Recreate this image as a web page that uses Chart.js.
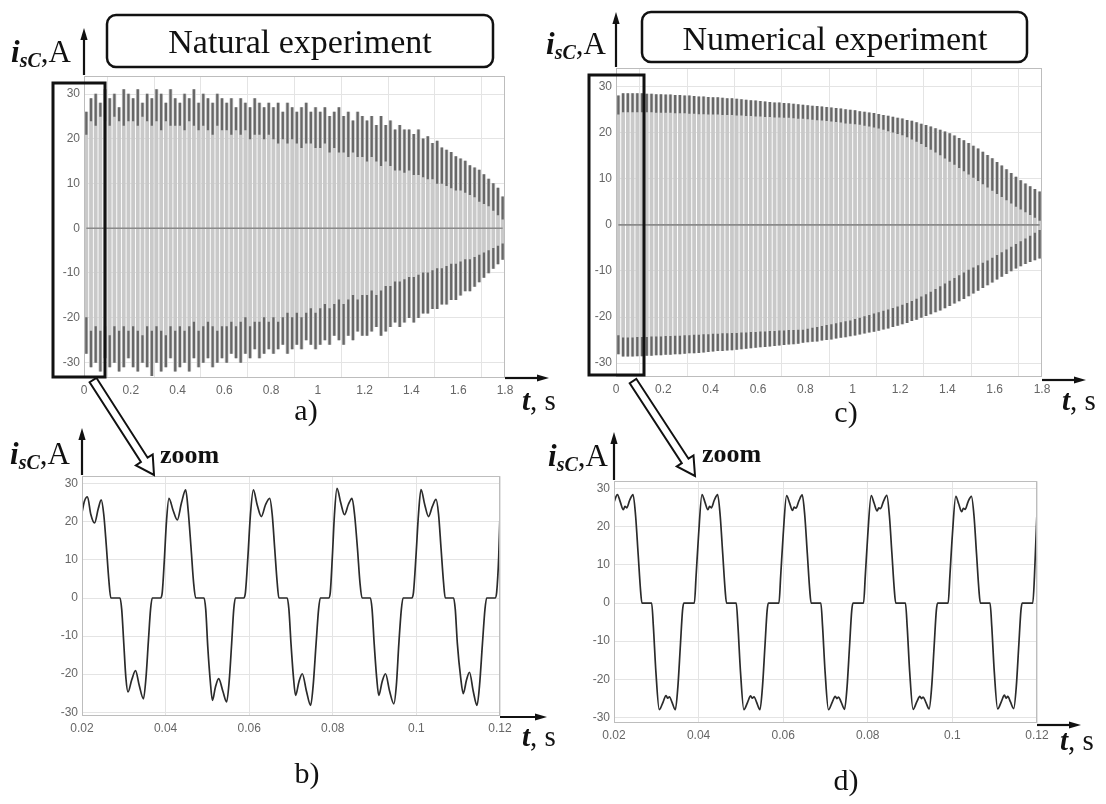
<!DOCTYPE html>
<html>
<head>
<meta charset="utf-8">
<script src="https://cdn.jsdelivr.net/npm/chart.js@4.4.1/dist/chart.umd.min.js"></script>
<style>
  html, body { margin: 0; padding: 0; background: #fff; }
  #page { position: relative; width: 1106px; height: 804px; overflow: hidden; }
  canvas { position: absolute; }
  svg { position: absolute; left: 0; top: 0; }
</style>
</head>
<body>
<div id="page">
  <canvas id="chartA"></canvas>
  <canvas id="chartC"></canvas>
  <canvas id="chartB"></canvas>
  <canvas id="chartD"></canvas>
  <svg id="overlay" width="1106" height="804"></svg>
</div>
<script>
// ---------- data ----------
// supply period and first cycle centre of the long records, s
const cyclePeriod = 0.02;
const cycleStart = 0.01;

// Natural experiment, full record: per-cycle positive / negative peaks, A
const natTopUpper = [
  26, 29, 30, 28, 31, 29, 30, 27, 31, 30,
  29, 31, 28, 30, 29, 31, 30, 28, 31, 29,
  28, 30, 29, 31, 28, 30, 29, 28, 30, 29,
  28, 29, 27, 29, 28, 27, 29, 28, 27, 28,
  27, 28, 26, 28, 27, 26, 27, 28, 26, 27,
  26, 27, 25, 26, 27, 25, 26, 24, 26, 25,
  24, 25, 23, 25, 23, 24, 22, 23, 22, 22,
  21, 22, 20, 20.5, 19, 19.5, 18, 17.5, 17, 16,
  15.5, 15, 14, 13.5, 13, 12, 11, 10, 9, 7
];
const natTopLower = [
  -28, -31, -30, -32, -29, -31, -30, -32, -31, -29,
  -31, -32, -30, -31, -33, -30, -32, -31, -29, -32,
  -31, -30, -32, -29, -31, -30, -29, -31, -30, -29,
  -30, -28, -29, -30, -28, -29, -27, -29, -28, -27,
  -28, -27, -26, -28, -27, -26, -27, -25, -26, -27,
  -26, -25, -26, -24, -25, -26, -24, -25, -23, -24,
  -24, -23, -22, -24, -23, -22, -21, -22, -21, -20,
  -21, -20, -19, -19, -18, -18, -17, -17, -16, -16,
  -15, -14, -14, -13, -12, -11, -10, -9, -8, -7
];
// per-cycle ripple floor of the flat tops, A
const natTopUpperDwell = [
  21, 24, 23, 25, 24, 23, 25, 24, 23, 24,
  24, 23, 25, 24, 23, 24, 22, 24, 23, 23,
  23, 22, 24, 23, 22, 23, 22, 21, 23, 22,
  22, 21, 22, 21, 22, 20, 21, 21, 20, 21,
  20, 19, 20, 19, 20, 19, 18, 19, 19, 18,
  18, 19, 17, 18, 17, 17, 16, 17, 16, 16,
  15, 16, 15, 14, 15, 14, 13, 13, 12.5, 13,
  12, 12, 11.5, 11, 11, 10, 10, 9.5, 9, 8.5,
  8.5, 8, 7.5, 7, 6, 5.5, 5, 4, 3, 2
];
const natTopLowerDwell = [
  -20, -23, -22, -23, -22, -24, -22, -23, -22, -23,
  -22, -23, -24, -22, -23, -22, -23, -24, -22, -23,
  -22, -23, -22, -21, -23, -22, -21, -22, -23, -22,
  -22, -21, -22, -21, -20, -22, -21, -21, -20, -21,
  -20, -21, -20, -19, -20, -19, -20, -19, -18, -19,
  -18, -17, -18, -17, -16, -17, -16, -15, -16, -15,
  -15, -14, -15, -14, -13, -13, -12, -12, -11.5, -11,
  -11, -10.5, -10, -10, -9.5, -9, -9, -8.5, -8, -8,
  -7.5, -7, -7, -6.5, -6, -5.5, -5, -4.5, -4, -3.5
];

// Numerical experiment, full record
const numTopUpper = [
  28, 28.5, 28.5, 28.5, 28.5, 28.5, 28.4, 28.4, 28.3, 28.3,
  28.2, 28.2, 28.1, 28.1, 28, 28, 27.9, 27.8, 27.8, 27.7,
  27.6, 27.6, 27.5, 27.4, 27.4, 27.3, 27.2, 27.1, 27.0, 26.9,
  26.8, 26.7, 26.6, 26.5, 26.5, 26.4, 26.3, 26.2, 26.1, 26.0,
  25.9, 25.8, 25.7, 25.6, 25.5, 25.4, 25.3, 25.2, 25.0, 24.9,
  24.8, 24.6, 24.5, 24.3, 24.2, 24.0, 23.8, 23.6, 23.4, 23.2,
  23.0, 22.7, 22.5, 22.2, 21.9, 21.6, 21.3, 20.9, 20.6, 20.2,
  19.8, 19.3, 18.8, 18.3, 17.7, 17.1, 16.5, 15.8, 15.1, 14.4,
  13.6, 12.8, 12.0, 11.2, 10.4, 9.6, 8.9, 8.3, 7.7, 7.2
];
const numTopLower = [
  -28, -28.5, -28.5, -28.5, -28.4, -28.4, -28.3, -28.3, -28.2, -28.2,
  -28.1, -28.1, -28.0, -28.0, -27.9, -27.8, -27.8, -27.7, -27.6, -27.5,
  -27.4, -27.3, -27.3, -27.2, -27.1, -27.0, -26.9, -26.8, -26.7, -26.6,
  -26.5, -26.4, -26.3, -26.2, -26.1, -26.0, -25.9, -25.8, -25.7, -25.5,
  -25.4, -25.3, -25.2, -25.0, -24.9, -24.8, -24.6, -24.4, -24.3, -24.1,
  -23.9, -23.7, -23.5, -23.3, -23.1, -22.9, -22.6, -22.4, -22.1, -21.8,
  -21.5, -21.2, -20.8, -20.5, -20.1, -19.7, -19.3, -18.9, -18.5, -18.0,
  -17.5, -17.0, -16.5, -16.0, -15.4, -14.8, -14.2, -13.6, -13.0, -12.4,
  -11.8, -11.2, -10.6, -10.0, -9.4, -8.9, -8.4, -8.0, -7.6, -7.2
];
const numTopUpperDwell = [
  24, 24.5, 24.5, 24.5, 24.5, 24.5, 24.5, 24.5, 24.4, 24.4,
  24.4, 24.4, 24.3, 24.3, 24.3, 24.2, 24.2, 24.1, 24.1, 24.0,
  24.0, 24.0, 23.9, 23.9, 23.9, 23.8, 23.8, 23.7, 23.7, 23.6,
  23.6, 23.5, 23.5, 23.4, 23.4, 23.3, 23.3, 23.2, 23.1, 23.1,
  23.0, 22.9, 22.8, 22.7, 22.6, 22.5, 22.4, 22.3, 22.1, 22.0,
  21.9, 21.8, 21.6, 21.4, 21.2, 21.0, 20.7, 20.4, 20.1, 19.8,
  19.5, 19.1, 18.6, 18.1, 17.6, 17.0, 16.4, 15.8, 15.2, 14.5,
  13.8, 13.1, 12.4, 11.7, 11.0, 10.3, 9.6, 8.9, 8.2, 7.5,
  6.8, 6.1, 5.4, 4.7, 4.0, 3.4, 2.8, 2.2, 1.6, 1.0
];
const numTopLowerDwell = [
  -24, -24.5, -24.5, -24.5, -24.4, -24.4, -24.4, -24.3, -24.3, -24.3,
  -24.2, -24.2, -24.1, -24.1, -24.0, -24.0, -23.9, -23.9, -23.8, -23.8,
  -23.7, -23.7, -23.6, -23.6, -23.5, -23.5, -23.4, -23.4, -23.3, -23.3,
  -23.2, -23.2, -23.1, -23.1, -23.0, -23.0, -22.9, -22.9, -22.8, -22.8,
  -22.6, -22.4, -22.2, -22.0, -21.8, -21.6, -21.4, -21.2, -21.0, -20.8,
  -20.5, -20.2, -19.9, -19.6, -19.3, -19.0, -18.7, -18.4, -18.1, -17.8,
  -17.4, -17.0, -16.6, -16.1, -15.6, -15.1, -14.6, -14.0, -13.4, -12.8,
  -12.2, -11.6, -11.0, -10.4, -9.8, -9.3, -8.8, -8.3, -7.8, -7.2,
  -6.6, -6.0, -5.4, -4.8, -4.2, -3.6, -3.0, -2.4, -1.8, -1.2
];

// Natural experiment, 0.02 .. 0.12 s
const natZoomTime = [
  0.0200, 0.0206, 0.0213, 0.0221, 0.0230, 0.0239, 0.0246, 0.0252, 0.0258, 0.0264, 0.0269, 0.0291,
  0.0295, 0.0300, 0.0305, 0.0310, 0.0319, 0.0328, 0.0337, 0.0347, 0.0353, 0.0359, 0.0364, 0.0368, 0.0388,
  0.0392, 0.0397, 0.0402, 0.0408, 0.0418, 0.0428, 0.0438, 0.0448, 0.0454, 0.0461, 0.0467, 0.0472, 0.0492,
  0.0496, 0.0501, 0.0507, 0.0512, 0.0519, 0.0527, 0.0537, 0.0546, 0.0552, 0.0558, 0.0563, 0.0567, 0.0587,
  0.0591, 0.0597, 0.0603, 0.0610, 0.0619, 0.0629, 0.0639, 0.0649, 0.0655, 0.0661, 0.0667, 0.0671, 0.0691,
  0.0695, 0.0700, 0.0706, 0.0711, 0.0719, 0.0727, 0.0737, 0.0747, 0.0753, 0.0760, 0.0766, 0.0770, 0.0790,
  0.0794, 0.0799, 0.0804, 0.0810, 0.0819, 0.0828, 0.0837, 0.0846, 0.0852, 0.0859, 0.0865, 0.0870, 0.0890,
  0.0894, 0.0899, 0.0905, 0.0910, 0.0918, 0.0926, 0.0936, 0.0946, 0.0952, 0.0958, 0.0964, 0.0968, 0.0989,
  0.0993, 0.0999, 0.1005, 0.1011, 0.1020, 0.1029, 0.1038, 0.1047, 0.1053, 0.1059, 0.1065, 0.1069, 0.1089,
  0.1093, 0.1098, 0.1106, 0.1112, 0.1120, 0.1127, 0.1136, 0.1145, 0.1151, 0.1158, 0.1164, 0.1168, 0.1188,
  0.1192, 0.1197, 0.1200
];
const natZoomCurrent = [
  22.5, 25.5, 26.6, 22, 19.7, 23.5, 25.8, 22, 14, 5, 0, 0,
  -3, -12, -21, -24.7, -21.5, -19.1, -23, -26.5, -21, -11, -3, 0, 0,
  1.5, 10, 20, 26.2, 23, 20.5, 25, 28.4, 23, 13, 4, 0, 0,
  -3, -13, -22, -26.9, -23.5, -21.2, -24.5, -27.3, -22, -12, -3, 0, 0,
  1.5, 11, 22, 28.4, 24.5, 21.4, 24.5, 26.2, 22, 13, 4, 0, 0,
  -3, -12, -21, -25.6, -22, -19.9, -24.5, -28.2, -23, -12, -3, 0, 0,
  1.5, 11, 22, 28.8, 25, 21.9, 24.5, 26.2, 22, 13, 4, 0, 0,
  -3, -12, -21, -25.6, -22, -19.9, -24.5, -27.8, -23, -12, -3, 0, 0,
  1.5, 11, 22, 28.5, 24.5, 21.4, 24, 25.9, 22, 13, 4, 0, 0,
  -3, -12, -21, -25.1, -21.5, -19.5, -24.5, -28.2, -23, -12, -3, 0, 0,
  1.5, 11, 22
];

// Numerical experiment, 0.02 .. 0.12 s
const numZoomTime = [
  0.0200, 0.0208, 0.0215, 0.0222, 0.0226, 0.0230, 0.0237, 0.0245, 0.0251, 0.0257, 0.0263, 0.0266, 0.0289,
  0.0293, 0.0299, 0.0307, 0.0316, 0.0323, 0.0327, 0.0331, 0.0337, 0.0345, 0.0351, 0.0357, 0.0362, 0.0365, 0.0390,
  0.0394, 0.0400, 0.0408, 0.0415, 0.0422, 0.0426, 0.0430, 0.0437, 0.0445, 0.0451, 0.0457, 0.0463, 0.0466, 0.0489,
  0.0493, 0.0499, 0.0507, 0.0516, 0.0523, 0.0527, 0.0531, 0.0537, 0.0545, 0.0551, 0.0557, 0.0562, 0.0565, 0.0590,
  0.0594, 0.0600, 0.0608, 0.0615, 0.0622, 0.0626, 0.0630, 0.0637, 0.0645, 0.0651, 0.0657, 0.0663, 0.0666, 0.0689,
  0.0693, 0.0699, 0.0707, 0.0716, 0.0723, 0.0727, 0.0731, 0.0737, 0.0745, 0.0751, 0.0757, 0.0762, 0.0765, 0.0790,
  0.0794, 0.0800, 0.0808, 0.0815, 0.0822, 0.0826, 0.0830, 0.0837, 0.0845, 0.0851, 0.0857, 0.0863, 0.0866, 0.0889,
  0.0893, 0.0899, 0.0907, 0.0916, 0.0923, 0.0927, 0.0931, 0.0937, 0.0945, 0.0951, 0.0957, 0.0962, 0.0965, 0.0990,
  0.0994, 0.1000, 0.1008, 0.1015, 0.1022, 0.1026, 0.1030, 0.1037, 0.1045, 0.1051, 0.1057, 0.1063, 0.1066, 0.1089,
  0.1093, 0.1099, 0.1107, 0.1116, 0.1123, 0.1127, 0.1131, 0.1137, 0.1145, 0.1151, 0.1157, 0.1162, 0.1165, 0.1190,
  0.1194, 0.1200
];
const numZoomCurrent = [
  26.5, 28.5, 26.5, 24.5, 25.4, 25, 27, 28.5, 23, 13, 3, 0, 0,
  -6, -18, -28, -26, -24.3, -25, -24.6, -26, -28, -22, -11, -2, 0, 0,
  7, 18, 28.5, 26.5, 24.5, 25.4, 25, 27, 28.5, 23, 13, 3, 0, 0,
  -6, -18, -28, -26, -24.4, -25, -24.6, -26, -28, -22, -11, -2, 0, 0,
  7, 18, 28.2, 26.3, 24.3, 25.2, 24.9, 26.8, 28.4, 23, 13, 3, 0, 0,
  -6, -18, -28, -26, -24.5, -25.1, -24.7, -26, -27.9, -22, -11, -2, 0, 0,
  7, 18, 28.2, 26.2, 24.2, 25, 24.8, 26.7, 28.3, 23, 13, 3, 0, 0,
  -6, -18, -27.9, -25.9, -24.5, -25.1, -24.7, -26, -27.8, -22, -11, -2, 0, 0,
  7, 18, 28, 26, 24, 24.9, 24.6, 26.6, 28, 23, 13, 3, 0, 0,
  -6, -18, -27.8, -25.8, -24.2, -25, -24.5, -25.9, -27.7, -22, -11, -2, 0, 0,
  7, 24
];

// tick labels
const topTimeTicks = [0, 0.2, 0.4, 0.6, 0.8, 1, 1.2, 1.4, 1.6, 1.8];
const zoomTimeTicks = [0.02, 0.04, 0.06, 0.08, 0.1, 0.12];
const currentTicks = [-30, -20, -10, 0, 10, 20, 30];

// ---------- layout ----------
const AXW = 44, AXH = 26, PADT = 10, PADR = 18;
const plots = {
  A: { l: 84, r: 505, t: 75, b: 378, y: [-33.5, 34] },
  C: { l: 616, r: 1042, t: 67, b: 377, y: [-33, 34] },
  B: { l: 82, r: 500, t: 475, b: 716, y: [-31, 32] },
  D: { l: 614, r: 1037, t: 480, b: 723, y: [-31.5, 32] }
};

Chart.defaults.animation = false;
Chart.defaults.font.family = "'Liberation Sans', Arial, sans-serif";

const fmt = v => String(+(+v).toFixed(3));

const framePlugin = {
  id: 'frame',
  afterDatasetsDraw(chart) {
    const a = chart.chartArea, ctx = chart.ctx;
    ctx.save();
    ctx.strokeStyle = '#bdbdbd';
    ctx.lineWidth = 1;
    ctx.strokeRect(Math.round(a.left) + 0.5, Math.round(a.top) + 0.5, Math.round(a.width) - 1, Math.round(a.height) - 1);
    ctx.restore();
  }
};

function placeCanvas(id, p) {
  const cv = document.getElementById(id);
  cv.width = (p.r - p.l) + AXW + PADR;
  cv.height = (p.b - p.t) + PADT + AXH;
  cv.style.left = (p.l - AXW) + 'px';
  cv.style.top = (p.t - PADT) + 'px';
  return cv;
}

function scales(xMin, xMax, xTicks, p) {
  const tickFont = { family: "'Liberation Sans', Arial, sans-serif", size: 12 };
  return {
    x: {
      type: 'linear', min: xMin, max: xMax, offset: false,
      afterBuildTicks: s => { s.ticks = xTicks.map(v => ({ value: v })); },
      afterFit: s => { s.height = AXH; },
      ticks: { callback: v => fmt(v), color: '#666', font: tickFont, padding: 5, maxRotation: 0, autoSkip: false },
      grid: { color: '#e4e4e4', drawTicks: false },
      border: { display: false }
    },
    y: {
      type: 'linear', min: p.y[0], max: p.y[1],
      afterBuildTicks: s => { s.ticks = currentTicks.map(v => ({ value: v })); },
      afterFit: s => { s.width = AXW; },
      ticks: { callback: v => fmt(v), color: '#666', font: tickFont, padding: 4, autoSkip: false },
      grid: { color: '#e4e4e4', drawTicks: false },
      border: { display: false }
    }
  };
}

function baseOptions(sc) {
  return {
    responsive: false,
    animation: false,
    events: [],
    layout: { padding: { top: PADT, right: PADR, left: 0, bottom: 0 } },
    plugins: { legend: { display: false }, tooltip: { enabled: false } },
    scales: sc
  };
}

// long record: one floating bar per supply cycle, darker ripple bands at the flat tops
function topChart(id, p, upper, lower, upDwell, loDwell) {
  const cv = placeCanvas(id, p);
  const times = upper.map((_, i) => cycleStart + i * cyclePeriod);
  const span = times.map((t, i) => ({ x: t, y: [lower[i], upper[i]] }));
  const upBand = times.map((t, i) => ({ x: t, y: [upDwell[i], upper[i]] }));
  const loBand = times.map((t, i) => ({ x: t, y: [lower[i], loDwell[i]] }));
  const zeroDwell = times.map(t => ({ x: t, y: 0 }));
  new Chart(cv, {
    type: 'bar',
    data: {
      datasets: [
        { type: 'line', data: zeroDwell, borderColor: '#8a8a8a', borderWidth: 1.6, pointRadius: 0, order: 0 },
        { data: upBand, backgroundColor: '#676767', barThickness: 1.6, grouped: false, order: 1 },
        { data: loBand, backgroundColor: '#676767', barThickness: 1.6, grouped: false, order: 1 },
        { data: span, backgroundColor: '#c9c9c9', barThickness: 3.1, grouped: false, order: 2 }
      ]
    },
    options: baseOptions(scales(0, 1.8, topTimeTicks, p)),
    plugins: [framePlugin]
  });
}

function zoomChart(id, p, times, current) {
  const cv = placeCanvas(id, p);
  new Chart(cv, {
    type: 'line',
    data: {
      datasets: [{
        data: times.map((t, i) => ({ x: t, y: current[i] })),
        borderColor: '#2b2b2b', borderWidth: 1.7, pointRadius: 0,
        cubicInterpolationMode: 'monotone'
      }]
    },
    options: baseOptions(scales(0.02, 0.12, zoomTimeTicks, p)),
    plugins: [framePlugin]
  });
}

topChart('chartA', plots.A, natTopUpper, natTopLower, natTopUpperDwell, natTopLowerDwell);
topChart('chartC', plots.C, numTopUpper, numTopLower, numTopUpperDwell, numTopLowerDwell);
zoomChart('chartB', plots.B, natZoomTime, natZoomCurrent);
zoomChart('chartD', plots.D, numZoomTime, numZoomCurrent);

// ---------- annotations ----------
const SERIF = "'Liberation Serif', 'Times New Roman', serif";
let svg = '';

function axisArrow(x1, y1, x2, y2) {
  const dx = x2 - x1, dy = y2 - y1, L = Math.hypot(dx, dy), ux = dx / L, uy = dy / L;
  const hl = 12, hw = 3.6;
  const bx = x2 - ux * hl, by = y2 - uy * hl;
  svg += `<line x1="${x1}" y1="${y1}" x2="${bx}" y2="${by}" stroke="#111" stroke-width="2.2"/>`;
  svg += `<polygon points="${x2},${y2} ${bx - uy * hw},${by + ux * hw} ${bx + uy * hw},${by - ux * hw}" fill="#111"/>`;
}
function hollowArrow(x1, y1, x2, y2) {
  const dx = x2 - x1, dy = y2 - y1, L = Math.hypot(dx, dy), ux = dx / L, uy = dy / L, nx = -uy, ny = ux;
  const sw = 4, hw = 10, hl = 18;
  const bx = x2 - ux * hl, by = y2 - uy * hl;
  const pts = [[x1 + nx * sw, y1 + ny * sw], [bx + nx * sw, by + ny * sw], [bx + nx * hw, by + ny * hw], [x2, y2],
               [bx - nx * hw, by - ny * hw], [bx - nx * sw, by - ny * sw], [x1 - nx * sw, y1 - ny * sw]];
  svg += `<polygon points="${pts.map(q => q.map(v => v.toFixed(1)).join(',')).join(' ')}" fill="#fff" stroke="#111" stroke-width="2"/>`;
}
function box(x, y, w, h, sw, r) {
  svg += `<rect x="${x}" y="${y}" width="${w}" height="${h}" rx="${r}" ry="${r}" fill="none" stroke="#111" stroke-width="${sw}"/>`;
}
function text(x, y, size, content, anchor) {
  svg += `<text x="${x}" y="${y}" font-family="${SERIF}" font-size="${size}" fill="#111" text-anchor="${anchor || 'start'}">${content}</text>`;
}
function currentLabel(x, y) {
  text(x, y, 31, `<tspan font-style="italic" font-weight="bold">i</tspan><tspan font-size="20" font-style="italic" font-weight="bold" dy="5">sC</tspan><tspan dy="-5">,A</tspan>`);
}
function timeLabel(x, y) {
  text(x, y, 29, `<tspan font-style="italic" font-weight="bold">t</tspan>, s`);
}

// panel a
box(107, 15, 386, 52, 2.5, 9);
text(300, 53, 34, 'Natural experiment', 'middle');
currentLabel(11, 62);
axisArrow(84, 75, 84, 28);
axisArrow(505, 378, 549, 378);
timeLabel(522, 410);
text(306, 420, 30, 'a)', 'middle');
hollowArrow(93, 380, 154, 475);
box(53, 83, 52, 294, 3, 0);
text(160, 463, 26, '<tspan font-weight="bold">zoom</tspan>');

// panel c
box(642, 12, 385, 50, 2.5, 9);
text(835, 50, 34, 'Numerical experiment', 'middle');
currentLabel(546, 54);
axisArrow(616, 67, 616, 12);
axisArrow(1042, 380, 1086, 380);
timeLabel(1062, 410);
text(846, 422, 30, 'c)', 'middle');
hollowArrow(633, 381, 695, 476);
box(589, 75, 55, 300, 3, 0);
text(702, 462, 26, '<tspan font-weight="bold">zoom</tspan>');

// panel b
currentLabel(10, 464);
axisArrow(82, 475, 82, 428);
axisArrow(500, 717, 547, 717);
timeLabel(522, 746);
text(307, 783, 30, 'b)', 'middle');

// panel d
currentLabel(548, 466);
axisArrow(614, 480, 614, 432);
axisArrow(1037, 725, 1081, 725);
timeLabel(1060, 750);
text(846, 790, 30, 'd)', 'middle');

document.getElementById('overlay').innerHTML = svg;
</script>
</body>
</html>
